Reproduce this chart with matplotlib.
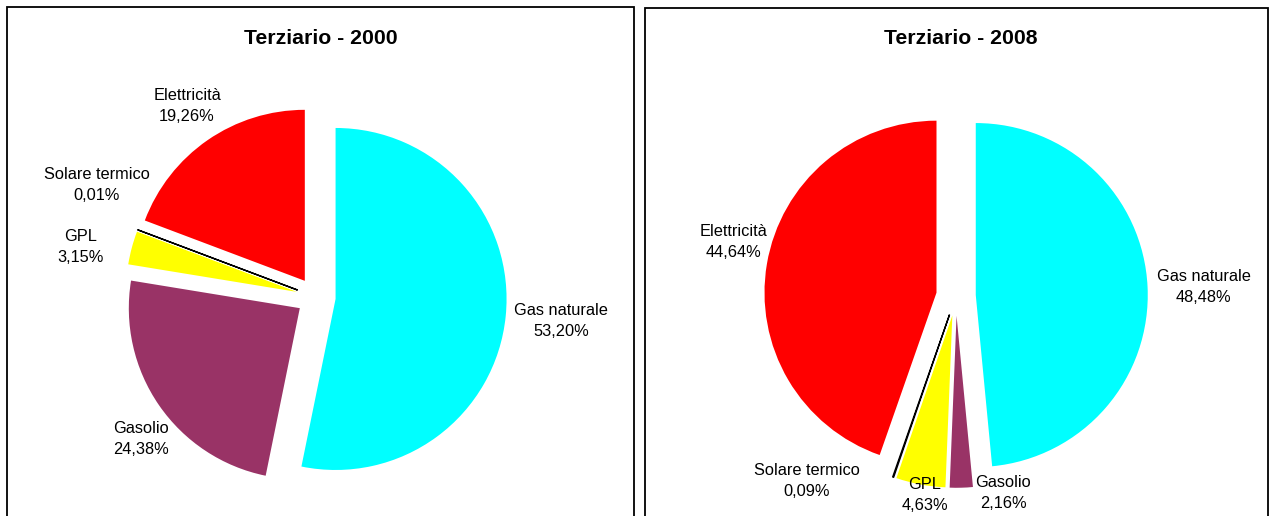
import numpy as np
import matplotlib.pyplot as plt
from matplotlib.patches import Rectangle

plt.rcParams['font.family'] = ['Liberation Sans', 'DejaVu Sans']

# Data (percent shares)
categories = ["Gas naturale", "Gasolio", "GPL", "Solare termico", "Elettricità"]
colors = ["#00FFFF", "#993366", "#FFFF00", "#000000", "#FF0000"]
years = ["2000", "2008"]
shares_2000 = [53.20, 24.38, 3.15, 0.01, 19.26]
shares_2008 = [48.48, 2.16, 4.63, 0.09, 44.64]

# Label placement (distance in radii, angle nudge in degrees from slice middle)
label_dist_2000 = [1.44, 1.32, 1.41, 1.44, 1.35]
label_nudge_2000 = [0.2, 4.4, 3.0, -6.4, -0.7]
label_dist_2008 = [1.44, 1.18, 1.17, 1.38, 1.33]
label_nudge_2008 = [-0.6, 11.8, 1.7, -19.8, -4.0]

W, H = 1270, 516
fig = plt.figure(figsize=(W / 100, H / 100), dpi=100)

# panel frames in pixels: left, top, right ; pie center x, y and radius in px
panels = [
    dict(box=(7, 7, 634), cx=316, cy=297, r=171, shares=shares_2000,
         dist=label_dist_2000, nudge=label_nudge_2000),
    dict(box=(645, 8, 1268), cx=956, cy=296, r=172, shares=shares_2008,
         dist=label_dist_2008, nudge=label_nudge_2008),
]

for year, p in zip(years, panels):
    x0, y0, x1 = p["box"]
    # frame, runs past the bottom of the picture
    fig.patches.append(Rectangle((x0 / W, -0.1), (x1 - x0) / W, 1.1 - y0 / H,
                                 transform=fig.transFigure, fill=False,
                                 edgecolor="black", linewidth=1.3))
    ax_l, ax_r, ax_t, ax_b = x0 + 1, x1 - 1, y0 + 1, H
    ax = fig.add_axes([ax_l / W, 1 - ax_b / H, (ax_r - ax_l) / W, (ax_b - ax_t) / H])
    wedges, _ = ax.pie(p["shares"], colors=colors, startangle=90, counterclock=False,
                       explode=[0.115] * len(p["shares"]),
                       wedgeprops=dict(edgecolor="none", linewidth=0))
    for w, c in zip(wedges, categories):
        if c == "Solare termico":
            w.set_edgecolor("black")
            w.set_linewidth(1.0)
    r = p["r"]
    ax.set_aspect("auto")
    ax.set_xlim((ax_l - p["cx"]) / r, (ax_r - p["cx"]) / r)
    ax.set_ylim((p["cy"] - ax_b) / r, (p["cy"] - ax_t) / r)
    ax.axis("off")

    for w, name, val, d, n in zip(wedges, categories, p["shares"], p["dist"], p["nudge"]):
        ang = np.deg2rad((w.theta1 + w.theta2) / 2 + n)
        txt = f"{name}\n{val:.2f}%".replace(".", ",")
        ax.text(d * np.cos(ang), d * np.sin(ang), txt, ha="center", va="center",
                fontsize=11.8, linespacing=1.5)

    fig.text((p["cx"] + 5) / W, 1 - 38 / H, f"Terziario - {year}", ha="center",
             va="center", fontsize=15.3, fontweight="bold")

fig.savefig("out.png", dpi=100)
